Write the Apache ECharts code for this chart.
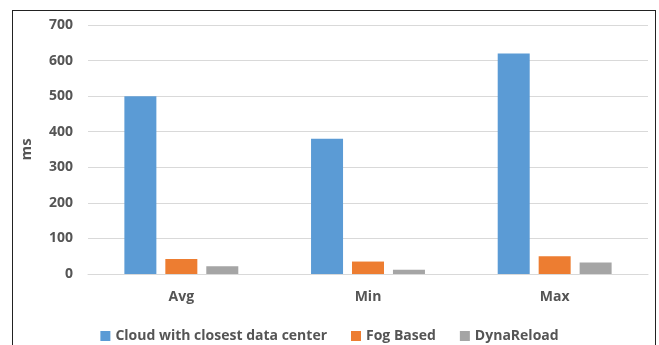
<!DOCTYPE html>
<html><head><meta charset="utf-8">
<script src="https://cdn.jsdelivr.net/npm/echarts@6/dist/echarts.min.js"></script>
<style>html,body{margin:0;padding:0;background:#fff}#frame{position:absolute;left:12px;top:10px;width:644px;height:340px;border:1px solid #222;box-sizing:border-box}#c{position:absolute;left:0;top:0;width:659px;height:345px}</style>
</head><body><div id="frame"></div><div id="c"></div>
<script>
const categories = ["Avg", "Min", "Max"];
const cloud = [500, 380, 620];
const fog = [42, 35, 50];
const dyna = [22, 12, 32];
const yTicks = [0, 100, 200, 300, 400, 500, 600, 700];

const chart = echarts.init(document.getElementById('c'), null, {renderer: 'canvas'});
const txt = {fontFamily: 'Open Sans', fontWeight: 'bold', color: '#555555', fontSize: 14};
chart.setOption({
  animation: false,
  grid: {left: 88, right: 11, top: 25, bottom: 71},
  legend: {
    top: 324, left: 'center', itemWidth: 10, itemHeight: 10, itemGap: 24, icon: 'rect',
    textStyle: Object.assign({}, txt),
    data: ['Cloud with closest data center', 'Fog Based', 'DynaReload']
  },
  xAxis: {
    type: 'category', data: categories,
    axisLine: {lineStyle: {color: '#d9d9d9', width: 1}},
    axisTick: {show: false},
    axisLabel: Object.assign({margin: 16}, txt)
  },
  yAxis: {
    type: 'value', min: yTicks[0], max: yTicks[yTicks.length - 1], interval: 100,
    name: 'ms', nameLocation: 'middle', nameGap: 54, nameRotate: 90,
    nameTextStyle: Object.assign({}, txt, {fontSize: 15}),
    axisLine: {show: false}, axisTick: {show: false},
    splitLine: {lineStyle: {color: '#d9d9d9', width: 1}},
    axisLabel: Object.assign({margin: 15}, txt)
  },
  series: [
    {name: 'Cloud with closest data center', type: 'bar', data: cloud, barWidth: 32, barGap: '28%', itemStyle: {color: '#5b9bd5'}},
    {name: 'Fog Based', type: 'bar', data: fog, barWidth: 32, itemStyle: {color: '#ed7d31'}},
    {name: 'DynaReload', type: 'bar', data: dyna, barWidth: 32, itemStyle: {color: '#a5a5a5'}}
  ]
});
</script></body></html>
